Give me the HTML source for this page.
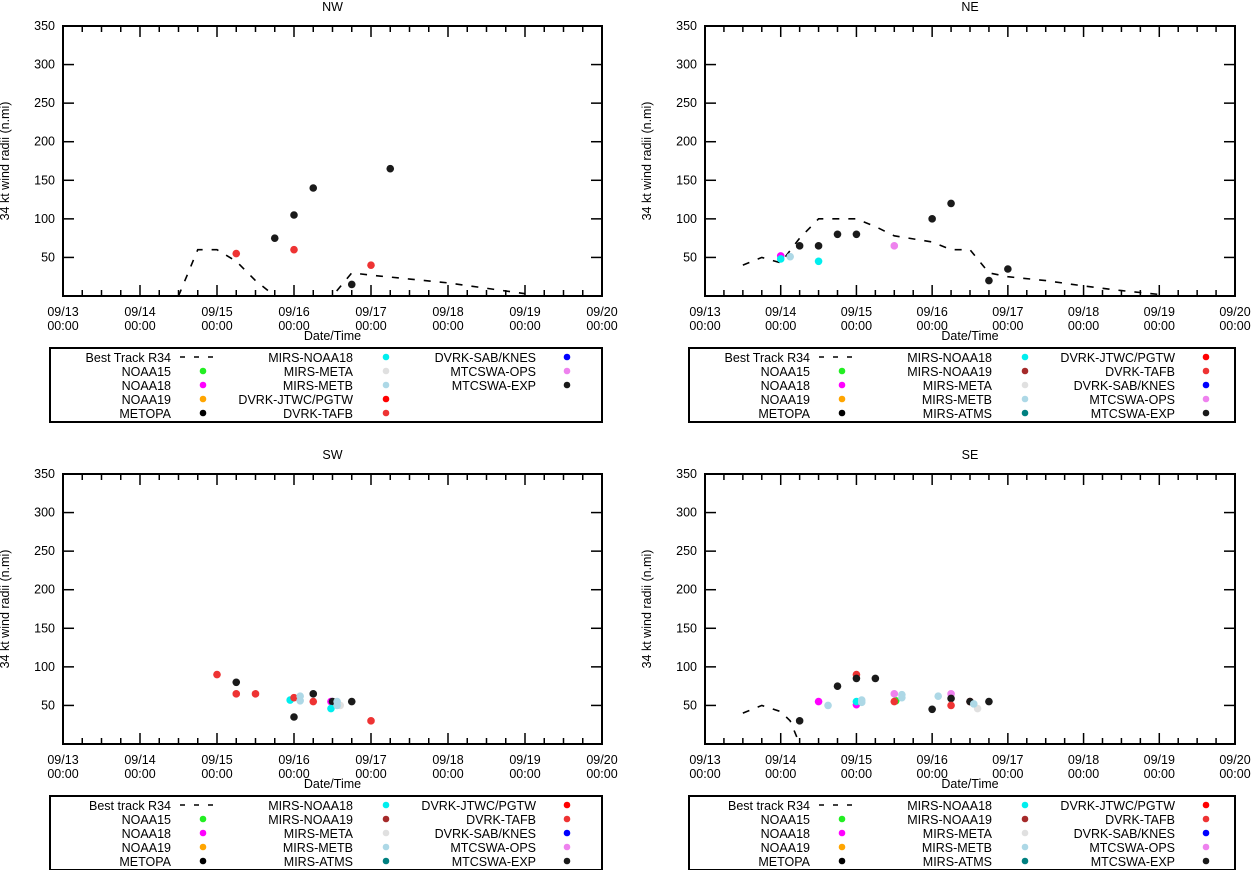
<!DOCTYPE html>
<html><head><meta charset="utf-8"><style>
html,body{margin:0;padding:0;background:#fff;}
svg{display:block;font-family:"Liberation Sans",sans-serif;}
</style></head><body>
<svg id="chart" width="1253" height="870" viewBox="0 0 1253 870" xmlns="http://www.w3.org/2000/svg"></svg>
<script>
// ---- data (days since 09/13 00:00) ----
const xTickLabels = ["09/13","09/14","09/15","09/16","09/17","09/18","09/19","09/20"];
const yTicks = [50,100,150,200,250,300,350];
const seriesNames = ["NOAA15","NOAA18","NOAA19","METOPA","MIRS-NOAA18","MIRS-NOAA19","MIRS-META","MIRS-METB","MIRS-ATMS","DVRK-JTWC/PGTW","DVRK-TAFB","DVRK-SAB/KNES","MTCSWA-OPS","MTCSWA-EXP"];
const seriesColors = ["#22ee22","#ff00ff","#ffa500","#000000","#00eeee","#a52a2a","#e0e0e0","#add8e6","#008080","#ff0000","#ee3333","#0000ff","#ee82ee","#1a1a1a"];

const nwBestDays = [1.5,1.75,2.0,2.25,2.5,2.75,3.5,3.75,4.0,4.5,5.0,5.5,6.0];
const nwBestVals = [0,60,60,45,20,0,0,30,27,22,17,10,3];
const nwPtSeries = ["DVRK-TAFB","DVRK-TAFB","DVRK-TAFB","MTCSWA-EXP","MTCSWA-EXP","MTCSWA-EXP","MTCSWA-EXP","MTCSWA-EXP"];
const nwPtDays = [2.25,3.0,4.0,2.75,3.0,3.25,4.25,3.75];
const nwPtVals = [55,60,40,75,105,140,165,15];

const neBestDays = [0.5,0.75,1.0,1.25,1.5,2.0,2.25,2.5,3.0,3.25,3.5,3.75,4.0,4.5,5.0,5.5,6.0];
const neBestVals = [40,50,43,75,100,100,90,78,70,60,60,30,25,20,13,7,2];
const nePtSeries = ["NOAA18","MIRS-NOAA18","MIRS-METB","MTCSWA-EXP","MTCSWA-EXP","MTCSWA-EXP","MTCSWA-EXP","MTCSWA-EXP","MTCSWA-EXP","MTCSWA-EXP","MTCSWA-EXP","MIRS-NOAA18","MTCSWA-OPS"];
const nePtDays = [1.0,1.0,1.125,1.25,1.5,1.75,2.0,3.0,3.25,3.75,4.0,1.5,2.5];
const nePtVals = [52,48,51,65,65,80,80,100,120,20,35,45,65];

const swBestDays = [];
const swBestVals = [];
const swPtSeries = ["DVRK-TAFB","MTCSWA-EXP","DVRK-TAFB","DVRK-TAFB","MIRS-NOAA18","DVRK-TAFB","MTCSWA-EXP","MIRS-METB","MIRS-METB","MTCSWA-EXP","DVRK-TAFB","NOAA18","MTCSWA-EXP","MIRS-NOAA18","MIRS-META","MIRS-METB","MIRS-METB","MTCSWA-EXP","DVRK-TAFB"];
const swPtDays = [2.0,2.25,2.25,2.5,2.95,3.0,3.0,3.08,3.08,3.25,3.25,3.48,3.5,3.48,3.6,3.56,3.56,3.75,4.0];
const swPtVals = [90,80,65,65,57,60,35,62,56,65,55,55,55,46,50,55,50,55,30];

const seBestDays = [0.5,0.75,1.0,1.125,1.25];
const seBestVals = [40,50,42,30,0];
const sePtSeries = ["MTCSWA-EXP","NOAA18","MIRS-METB","MTCSWA-EXP","DVRK-TAFB","MTCSWA-EXP","NOAA18","MIRS-NOAA18","MIRS-METB","MIRS-METB","MTCSWA-EXP","NOAA15","DVRK-TAFB","MTCSWA-OPS","MIRS-METB","MIRS-METB","MTCSWA-EXP","MIRS-METB","MTCSWA-OPS","MTCSWA-EXP","DVRK-TAFB","DVRK-TAFB","MTCSWA-EXP","MIRS-META","MIRS-METB","MTCSWA-EXP"];
const sePtDays = [1.25,1.5,1.625,1.75,2.0,2.0,2.0,2.0,2.07,2.07,2.25,2.52,2.5,2.5,2.6,2.6,3.0,3.08,3.25,3.25,3.25,3.5,3.5,3.6,3.55,3.75];
const sePtVals = [30,55,50,75,90,85,51,55,57,54,85,56,55,65,64,60,45,62,65,59,50,55,55,46,52,55];

const legendCol1 = ["NOAA15","NOAA18","NOAA19","METOPA"];
const legendCol2Full = ["MIRS-NOAA18","MIRS-NOAA19","MIRS-META","MIRS-METB","MIRS-ATMS"];
const legendCol3Full = ["DVRK-JTWC/PGTW","DVRK-TAFB","DVRK-SAB/KNES","MTCSWA-OPS","MTCSWA-EXP"];
const legendCol2NW = ["MIRS-NOAA18","MIRS-META","MIRS-METB","DVRK-JTWC/PGTW","DVRK-TAFB"];
const legendCol3NW = ["DVRK-SAB/KNES","MTCSWA-OPS","MTCSWA-EXP"];

// ---- drawing ----
const NS="http://www.w3.org/2000/svg";
const svg=document.getElementById('chart');
function mk(tag,attrs,parent){const e=document.createElementNS(NS,tag);for(const k in attrs)e.setAttribute(k,attrs[k]);(parent||svg).appendChild(e);return e;}
function colorOf(n){return seriesColors[seriesNames.indexOf(n)];}
const FS=12.5;

function panel(key,title,L,T,W,bestLabel,bDays,bVals,pS,pD,pV,legBox,c2,c3){
  const H=270,R=L+W,B=T+H;
  const g=mk('g',{});
  
  
  const xS=d=>L+d*W/7, yS=v=>B-v*H/350;
  const t=mk('text',{x:L+W/2,y:T-15,'text-anchor':'middle','font-size':FS},g);t.textContent=title;
  
  for(let i=0;i<=28;i++){const x=xS(i/4),len=i%4===0?11:6;
    mk('line',{x1:x,y1:B,x2:x,y2:B-len,stroke:'#000','stroke-width':1.5},g);
    mk('line',{x1:x,y1:T,x2:x,y2:T+len,stroke:'#000','stroke-width':1.5},g);}
  xTickLabels.forEach((lb,i)=>{const x=xS(i);
    const a=mk('text',{x:x,y:B+20,'text-anchor':'middle','font-size':FS},g);a.textContent=lb;
    
    const b=mk('text',{x:x,y:B+34,'text-anchor':'middle','font-size':FS},g);b.textContent='00:00';
    });
  yTicks.forEach(v=>{const y=yS(v);
    mk('line',{x1:L,y1:y,x2:L+11,y2:y,stroke:'#000','stroke-width':1.5},g);
    mk('line',{x1:R,y1:y,x2:R-11,y2:y,stroke:'#000','stroke-width':1.5},g);
    const tx=mk('text',{x:L-8,y:y+4,'text-anchor':'end','font-size':FS},g);tx.textContent=v;
    });
  const yt=mk('text',{x:0,y:0,'text-anchor':'middle','font-size':FS,transform:`translate(${L-54},${T+H/2}) rotate(-90)`},g);
  yt.textContent='34 kt wind radii (n.mi)';
  const xt=mk('text',{x:L+W/2,y:B+44,'text-anchor':'middle','font-size':FS},g);xt.textContent='Date/Time';
  
  if(bDays.length){const pts=bDays.map((d,i)=>xS(d)+','+yS(bVals[i])).join(' ');
    const pl=mk('polyline',{points:pts,fill:'none',stroke:'#000','stroke-width':1.6,'stroke-dasharray':'7,9'},g);
    }
  pD.forEach((d,i)=>{const c=mk('circle',{cx:xS(d),cy:yS(pV[i]),r:3.8,fill:colorOf(pS[i])},g);
    
    });
  const fr=mk('rect',{x:L,y:T,width:W,height:H,fill:'none',stroke:'#000','stroke-width':2},g);
  
  const lg=mk('g',{},g);
  const bx=legBox, by=B+52;
  mk('rect',{x:bx,y:by,width:R-bx,height:74,fill:'none',stroke:'#000','stroke-width':2},lg);
  const rowY=i=>by+9+i*14;
  function entry(txt,tx,dx,i,color){const e=mk('text',{x:bx+tx,y:rowY(i)+5,'text-anchor':'end','font-size':FS},lg);e.textContent=txt;
    
    if(color){mk('circle',{cx:bx+dx,cy:rowY(i),r:3.3,fill:color},lg);}}
  entry(bestLabel,121,0,0,null);
  mk('line',{x1:bx+130,y1:rowY(0),x2:bx+170,y2:rowY(0),stroke:'#000','stroke-width':1.5,'stroke-dasharray':'5,9'},lg);
  legendCol1.forEach((n,i)=>entry(n,121,153,i+1,colorOf(n)));
  c2.forEach((n,i)=>entry(n,303,336,i,colorOf(n)));
  c3.forEach((n,i)=>entry(n,486,517,i,colorOf(n)));
}
panel('nw','NW',63,26,539,'Best Track R34',nwBestDays,nwBestVals,nwPtSeries,nwPtDays,nwPtVals,50,legendCol2NW,legendCol3NW);
panel('ne','NE',705,26,530,'Best Track R34',neBestDays,neBestVals,nePtSeries,nePtDays,nePtVals,689,legendCol2Full,legendCol3Full);
panel('sw','SW',63,474,539,'Best track R34',swBestDays,swBestVals,swPtSeries,swPtDays,swPtVals,50,legendCol2Full,legendCol3Full);
panel('se','SE',705,474,530,'Best track R34',seBestDays,seBestVals,sePtSeries,sePtDays,sePtVals,689,legendCol2Full,legendCol3Full);
</script>
</body></html>
